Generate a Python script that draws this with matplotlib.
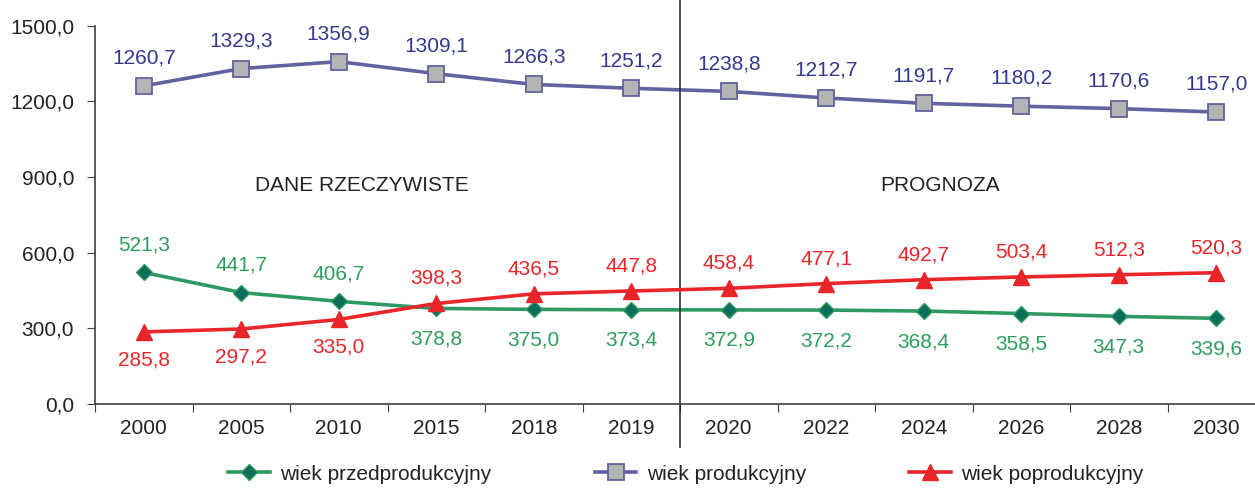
import matplotlib
matplotlib.use('Agg')
import matplotlib.pyplot as plt
from matplotlib.ticker import FixedLocator, FuncFormatter

plt.rcParams['font.family'] = ['Liberation Sans', 'DejaVu Sans']

years = ['2000', '2005', '2010', '2015', '2018', '2019',
         '2020', '2022', '2024', '2026', '2028', '2030']
przedprod = [521.3, 441.7, 406.7, 378.8, 375.0, 373.4,
             372.9, 372.2, 368.4, 358.5, 347.3, 339.6]
prod = [1260.7, 1329.3, 1356.9, 1309.1, 1266.3, 1251.2,
        1238.8, 1212.7, 1191.7, 1180.2, 1170.6, 1157.0]
poprod = [285.8, 297.2, 335.0, 398.3, 436.5, 447.8,
          458.4, 477.1, 492.7, 503.4, 512.3, 520.3]
n_actual = 6  # first 6 points are real data, the rest is a forecast

green, green_dark, green_txt = '#2e9a62', '#0d6e5e', '#2e9e5e'
purple, purple_txt = '#6262a0', '#363890'
red = '#e8262a'

fig = plt.figure(figsize=(12.55, 4.88), dpi=100)
ax = fig.add_axes([95 / 1255, 84 / 488, 1170 / 1255, 378.5 / 488])

x = list(range(len(years)))
ax.plot(x, przedprod, color=green, lw=2.6, marker='D', ms=8.5,
        mfc=green_dark, mec=green, mew=1, label='wiek przedprodukcyjny')
ax.plot(x, prod, color=purple, lw=2.6, marker='s', ms=11,
        mfc='#b4b4b4', mec=purple, mew=1.3, label='wiek produkcyjny')
ax.plot(x, poprod, color=red, lw=2.6, marker='^', ms=12,
        mfc=red, mec=red, label='wiek poprodukcyjny', zorder=3)

def fmt(v):
    return f'{v:.1f}'.replace('.', ',')

for i in x:
    ax.annotate(fmt(prod[i]), (i, prod[i]), xytext=(0, 20), textcoords='offset points',
                ha='center', va='center', fontsize=15, color=purple_txt)
    g_up = przedprod[i] > poprod[i]
    ax.annotate(fmt(przedprod[i]), (i, przedprod[i]), xytext=(0, 20 if g_up else -22),
                textcoords='offset points', ha='center', va='center',
                fontsize=15, color=green_txt)
    ax.annotate(fmt(poprod[i]), (i, poprod[i]), xytext=(0, -20 if g_up else 18),
                textcoords='offset points', ha='center', va='center',
                fontsize=15, color=red)

ax.set_xlim(-0.5, len(years) - 0.5)
ax.set_ylim(0, 1500)
ax.set_yticks([0, 300, 600, 900, 1200, 1500])
ax.yaxis.set_major_formatter(FuncFormatter(lambda v, p: fmt(v)))

ax.xaxis.set_major_locator(FixedLocator([i - 0.5 for i in range(len(years) + 1)]))
ax.xaxis.set_minor_locator(FixedLocator(x))
ax.set_xticklabels([], minor=False)
ax.set_xticklabels(years, minor=True)
ax.tick_params(axis='x', which='major', length=6, color='#404040')
ax.tick_params(axis='x', which='minor', length=0, pad=11, labelsize=15, labelcolor='#222222')
ax.tick_params(axis='y', length=6, pad=9, labelsize=15, labelcolor='#222222', color='#404040')

for s in ['top', 'right']:
    ax.spines[s].set_visible(False)
for s in ['left', 'bottom']:
    ax.spines[s].set_color('#404040')
    ax.spines[s].set_linewidth(1.2)

# divider between real data and forecast
ax.plot([n_actual - 0.5, n_actual - 0.5], [-170, 1600], color='#222222', lw=1.1,
        clip_on=False)

ax.text(2.24, 864, 'DANE RZECZYWISTE', ha='center', va='center', fontsize=15, color='#222222')
ax.text(8.17, 864, 'PROGNOZA', ha='center', va='center', fontsize=15, color='#222222')

fig.legend(loc='center', bbox_to_anchor=(686 / 1255, 1 - 474 / 488), ncol=3,
           frameon=False, fontsize=15, handlelength=2.0, handletextpad=0.5,
           columnspacing=4.95, labelcolor='#222222')

fig.savefig('out.png', dpi=100)
